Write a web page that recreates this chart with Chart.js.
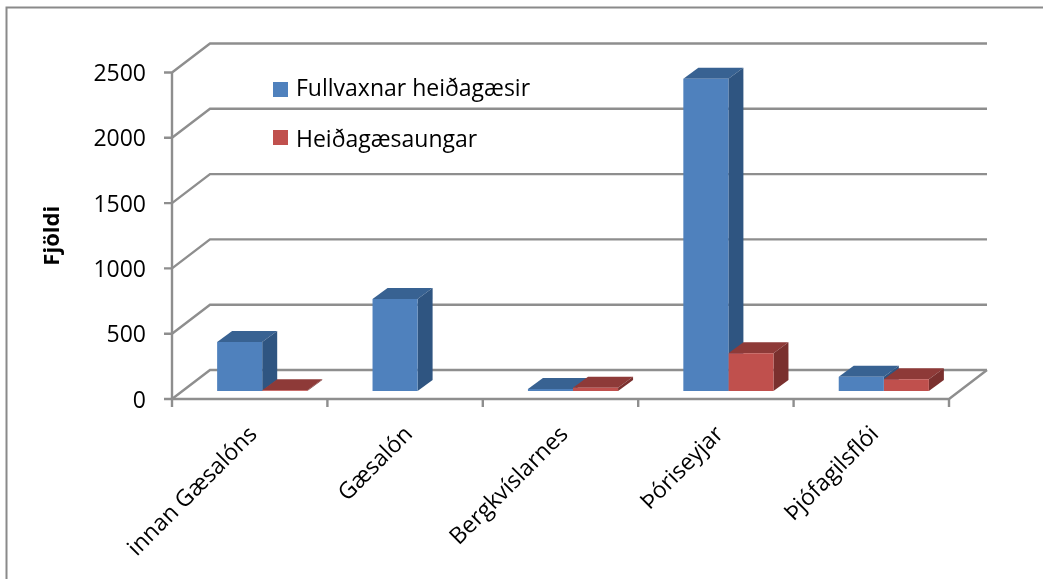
<!DOCTYPE html>
<html>
<head>
<meta charset="utf-8">
<style>html,body{margin:0;padding:0;background:#fff}canvas{display:block}</style>
<script src="https://cdn.jsdelivr.net/npm/chart.js@4/dist/chart.umd.js"></script>
</head>
<body>
<canvas id="c" width="1043" height="579"></canvas>
<script>
const categories = ["innan Gæsalóns", "Gæsalón", "Bergkvíslarnes", "Þóriseyjar", "Þjófagilsflói"];
const adultGeese = [375, 705, 15, 2390, 110];
const goslings = [5, 0, 25, 290, 90];
const seriesNames = ["Fullvaxnar heiðagæsir", "Heiðagæsaungar"];
const yTicks = [0, 500, 1000, 1500, 2000, 2500];
const FONT = '"Open Sans"';
const GRID = '#8e8e8e';
const wall = {dx: 38, dy: -29};
const bar = {dx: 12.5, dy: -8, depthX: 15, depthY: -11};
const shades = [
  {front: '#4F81BD', side: '#2F5581', top: '#386292'},
  {front: '#C0504D', side: '#7A302E', top: '#8E3A38'}
];

function line(ctx, pts, color, w) {
  ctx.beginPath();
  pts.forEach((p, i) => i ? ctx.lineTo(p[0], p[1]) : ctx.moveTo(p[0], p[1]));
  ctx.strokeStyle = color; ctx.lineWidth = w; ctx.stroke();
}
function poly(ctx, pts, color) {
  ctx.beginPath();
  pts.forEach((p, i) => i ? ctx.lineTo(p[0], p[1]) : ctx.moveTo(p[0], p[1]));
  ctx.closePath(); ctx.fillStyle = color; ctx.fill();
}

const frame3d = {
  id: 'frame3d',
  beforeDraw(chart) {
    const {ctx, width, height} = chart;
    ctx.save();
    line(ctx, [[6.5, height], [6.5, 7.5], [width, 7.5]], '#8a8a8a', 2);
    ctx.restore();
  },
  beforeDatasetsDraw(chart) {
    const {ctx, scales: {x, y}} = chart;
    const L = x.left, R = x.right, B = y.getPixelForValue(0);
    ctx.save();
    yTicks.forEach(v => {
      const p = y.getPixelForValue(v);
      line(ctx, [[L - 8, p], [L, p], [L + wall.dx, p + wall.dy], [R + wall.dx, p + wall.dy]], GRID, 2.4);
    });
    line(ctx, [[L, y.top], [L, B]], GRID, 2.4);
    line(ctx, [[L, B], [R, B], [R + wall.dx, B + wall.dy]], GRID, 2.4);
    const step = (R - L) / categories.length;
    for (let i = 0; i <= categories.length; i++) {
      const tx = x.getPixelForValue(i) - step / 2;
      line(ctx, [[tx, B], [tx, B + 8]], GRID, 2.4);
    }
    // side and top faces behind all front faces, left series first
    ctx.translate(bar.dx, bar.dy);
    [0, 1].forEach(di => {
      const s = shades[di];
      chart.getDatasetMeta(di).data.forEach((el, i) => {
        if (!chart.data.datasets[di].data[i]) return;
        const p = el.getProps(['x', 'y', 'base', 'width'], true);
        const l = p.x - p.width / 2, r = p.x + p.width / 2;
        const dx = bar.depthX, dy = bar.depthY;
        poly(ctx, [[l, p.y], [r, p.y], [r + dx, p.y + dy], [l + dx, p.y + dy]], s.top);
        poly(ctx, [[r, p.y], [r + dx, p.y + dy], [r + dx, p.base + dy], [r, p.base]], s.side);
      });
    });
    ctx.restore();
  },
  beforeDatasetDraw(chart) {
    chart.ctx.save();
    chart.ctx.translate(bar.dx, bar.dy);
  },
  afterDatasetDraw(chart) {
    chart.ctx.restore();
  },
  afterDraw(chart) {
    const ctx = chart.ctx;
    ctx.save();
    ctx.font = '23px ' + FONT;
    ctx.textBaseline = 'middle';
    ctx.textAlign = 'left';
    chart.data.datasets.forEach((d, i) => {
      ctx.fillStyle = d.backgroundColor;
      ctx.fillRect(273, 82 + i * 48, 15, 15);
      ctx.fillStyle = '#000';
      ctx.fillText(d.label, 296, 89 + i * 51);
    });
    ctx.restore();
  }
};

new Chart(document.getElementById('c'), {
  type: 'bar',
  data: {
    labels: categories,
    datasets: [
      {label: seriesNames[0], data: adultGeese, backgroundColor: shades[0].front, clip: false},
      {label: seriesNames[1], data: goslings, backgroundColor: shades[1].front, clip: false}
    ]
  },
  plugins: [frame3d],
  options: {
    responsive: false,
    animation: false,
    events: [],
    layout: {padding: {left: 40, top: 72.5, right: 94, bottom: 0}},
    plugins: {legend: {display: false}, tooltip: {enabled: false}, title: {display: false}},
    datasets: {bar: {categoryPercentage: 0.58, barPercentage: 1}},
    scales: {
      x: {
        grid: {display: false},
        border: {display: false},
        afterFit(s) { s.height = 180; },
        ticks: {
          autoSkip: false, minRotation: 45, maxRotation: 45, padding: 14, labelOffset: 4,
          color: '#000', font: {family: FONT, size: 23}
        }
      },
      y: {
        min: 0, max: 2500,
        grid: {display: false},
        border: {display: false},
        afterFit(s) { s.width = 132; },
        afterBuildTicks(s) { s.ticks = yTicks.map(v => ({value: v})); },
        title: {display: true, text: 'Fjöldi', color: '#000', font: {family: FONT, size: 22, weight: 'bold'}, padding: {top: 0, bottom: 0}},
        ticks: {padding: 18, labelOffset: 2, color: '#000', font: {family: FONT, size: 23}, callback: v => String(v)}
      }
    }
  }
});
</script>
</body>
</html>
